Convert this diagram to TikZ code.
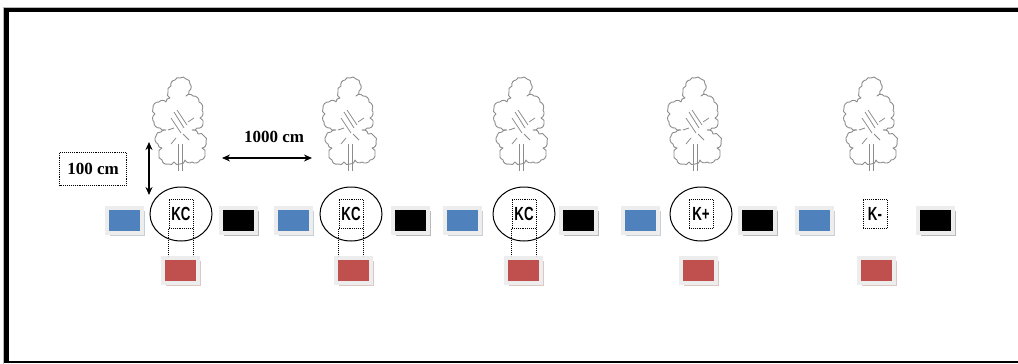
\documentclass[tikz,border=0pt]{standalone}
\usepackage{fontspec}
\setmainfont{Liberation Serif}
\newfontfamily\labfont[FakeStretch=0.7]{Liberation Sans}
\usetikzlibrary{shapes.geometric,shadows,arrows.meta}
\definecolor{plotblue}{HTML}{4F81BD}
\definecolor{plotred}{HTML}{C0504D}
\definecolor{plotblack}{HTML}{000000}
\definecolor{treegray}{HTML}{8C8C8C}
\tikzset{
  plotbox/.style={minimum width=35pt, minimum height=25pt, inner sep=0pt,
    fill=#1, draw=black!7, line width=4pt,
    drop shadow={shadow xshift=3.5pt, shadow yshift=-3.5pt, fill=#1!45!gray!75}},
  dotline/.style={line width=0.8pt, dash pattern=on 0.9pt off 1pt},
  klabel/.style={dotline, draw, minimum width=24pt, minimum height=29pt, inner sep=0pt,
    font=\labfont\bfseries\fontsize{19}{20}\selectfont},
  hole/.style={draw, ellipse, line width=1pt, minimum width=62pt, minimum height=54pt},
  dim/.style={{Stealth[length=8pt,width=7pt]}-{Stealth[length=8pt,width=7pt]}, line width=1.5pt},
  measure/.style={font=\bfseries\fontsize{17}{20}\selectfont},
  lobe/.style={bend left=55},
  tree/.pic={
    % lobed crown outline
    \draw[treegray, line width=0.9pt, line join=round]
      (0,0) to[lobe] (6,1) to[lobe] (10,6) to[lobe] (9,13) to[lobe] (6,18)
      to[lobe] (13,18) to[lobe] (19,24) to[lobe] (22,32) to[lobe] (20,40)
      to[lobe] (23,46) to[lobe] (17,50) to[lobe] (12,52) to[lobe] (18,56)
      to[lobe] (24,58) to[lobe] (26,64) to[lobe] (22,70) to[lobe] (25,76)
      to[lobe] (20,82) to[lobe] (12,84) to[lobe] (5,82) to[lobe] (0,86)
      to[lobe] (-6,84) to[lobe] (-12,86) to[lobe] (-18,82) to[lobe] (-21,76)
      to[lobe] (-18,70) to[lobe] (-22,66) to[lobe] (-24,58) to[lobe] (-19,54)
      to[lobe] (-14,52) to[lobe] (-20,50) to[lobe] (-26,44) to[lobe] (-25,36)
      to[lobe] (-27,30) to[lobe] (-21,24) to[lobe] (-14,24) to[lobe] (-10,20)
      to[lobe] (-12,14) to[lobe] (-9,8) to[lobe] (-5,2) to[lobe] (0,0);
    % trunk and branches
    \draw[treegray, line width=0.8pt] (-2,66) -- (-2,93) (2,66) -- (2,93);
    \draw[treegray, line width=0.8pt]
      (-6,34) -- (4,50) (-3,32) -- (7,47) (-9,40) -- (1,55)
      (8,44) -- (14,40) (-12,52) -- (-6,50) (3,56) -- (9,62)
      (-4,60) -- (-9,66);
  }
}
\begin{document}
\begin{tikzpicture}[x=1pt, y=-1pt]
  \useasboundingbox (0,0) rectangle (1018,364);
  % outer frame
  \draw[gray!55, line width=0.8pt] (3.5,364) -- (3.5,7) -- (1018,7);
  \draw[line width=4pt] (5,10) -- (1018,10);
  \draw[line width=5pt] (6.5,8) -- (6.5,362.5);
  \draw[line width=2pt] (4,362) -- (1018,362);

  % planting units: centre, blue, black, red, tree, label, hole
  \foreach \i/\cx/\bx/\kx/\rx/\tx/\lab/\hashole in {
      1/181/124/238/180/180/KC/1,
      2/351/293/410/353/350/KC/1,
      3/524/462/578/523/521/KC/1,
      4/701/640/757/698/695/K+/1,
      5/875/814/935/876/871/K-/0}{
    \pic at (\tx,78) {tree};
    \ifnum\hashole=1
      \node[hole] (c\i) at (\cx,214) {};
    \fi
    \node[klabel] (k\i) at (\cx,214) {\lab};
    \node[plotbox=plotblue] (blue\i) at (\bx,220) {};
    \node[plotbox=plotblack] (black\i) at (\kx,220) {};
    \node[plotbox=plotred] (red\i) at (\rx,270) {};
  }

  % dotted guides from the KC labels to the red plots
  \foreach \i in {1,2,3}{
    \draw[dotline] (k\i.south west) -- (k\i.south west |- red\i.north);
    \draw[dotline] (k\i.south east) -- (k\i.south east |- red\i.north);
  }

  % spacing dimensions
  \coordinate (vtop) at (149,142);
  \coordinate (vbot) at (149,195);
  \coordinate (hleft) at (222,158);
  \coordinate (hright) at (312,158);
  \draw[dim] (vtop) -- (vbot);
  \draw[dim] (hleft) -- (hright);
  \node[measure] (d1000) at (274,137) {1000 cm};
  \node[measure, draw, dotline, minimum width=67pt, minimum height=33pt] (d100) at (93,169) {100 cm};
\end{tikzpicture}
\end{document}
